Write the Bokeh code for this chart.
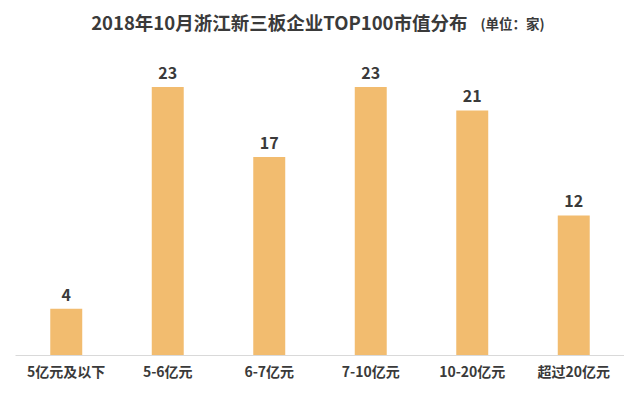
from bokeh.plotting import figure
from bokeh.models import ColumnDataSource, Label, FactorRange, Range1d
from bokeh.core.properties import value
from bokeh.embed import file_html
from bokeh.resources import INLINE

categories = ["5亿元及以下", "5-6亿元", "6-7亿元", "7-10亿元", "10-20亿元", "超过20亿元"]
counts = [4, 23, 17, 23, 21, 12]
labels = [str(v) for v in counts]
title_text = "2018年10月浙江新三板企业TOP100市值分布"
unit_text = "(单位：家)"

FONT = "Noto Sans CJK SC"
BAR = "#F2BC6F"
DARK = "#3a3a3a"

src = ColumnDataSource(dict(cat=categories, val=counts, lab=labels))

p = figure(width=624, height=383, x_range=FactorRange(*categories, range_padding=0),
           y_range=Range1d(0, 30.42), output_backend="svg", toolbar_location=None,
           min_border_left=15, min_border_right=0, min_border_top=0, min_border_bottom=28)
p.outline_line_color = None
p.xgrid.visible = False
p.ygrid.visible = False
p.yaxis.visible = False
p.background_fill_color = "white"
p.border_fill_color = "white"

p.vbar(x="cat", top="val", width=0.315, source=src, fill_color=BAR, line_color=None)
p.text(x="cat", y="val", text="lab", source=src, text_align="center",
       text_baseline="alphabetic", y_offset=-14, text_font=value(FONT),
       text_font_style="bold", text_font_size="16px", text_color=DARK)

xa = p.xaxis[0]
xa.axis_line_color = "#d9d9d9"
xa.axis_line_width = 1
xa.major_tick_line_color = None
xa.minor_tick_line_color = None
xa.major_tick_out = 0
xa.major_tick_in = 0
xa.major_label_standoff = 5
xa.major_label_text_font = FONT
xa.major_label_text_font_style = "bold"
xa.major_label_text_font_size = "14px"
xa.major_label_text_color = DARK

t1 = Label(x=4.453, y=28.62, text=title_text, text_align="right", text_baseline="middle",
           text_font=FONT, text_font_style="bold", text_font_size="18.5px", text_color=DARK)
t2 = Label(x=4.581, y=28.5, text=unit_text, text_align="left", text_baseline="middle",
           text_font=FONT, text_font_style="bold", text_font_size="13.5px", text_color=DARK)
p.add_layout(t1)
p.add_layout(t2)

open("out.html", "w").write(file_html(p, INLINE))
